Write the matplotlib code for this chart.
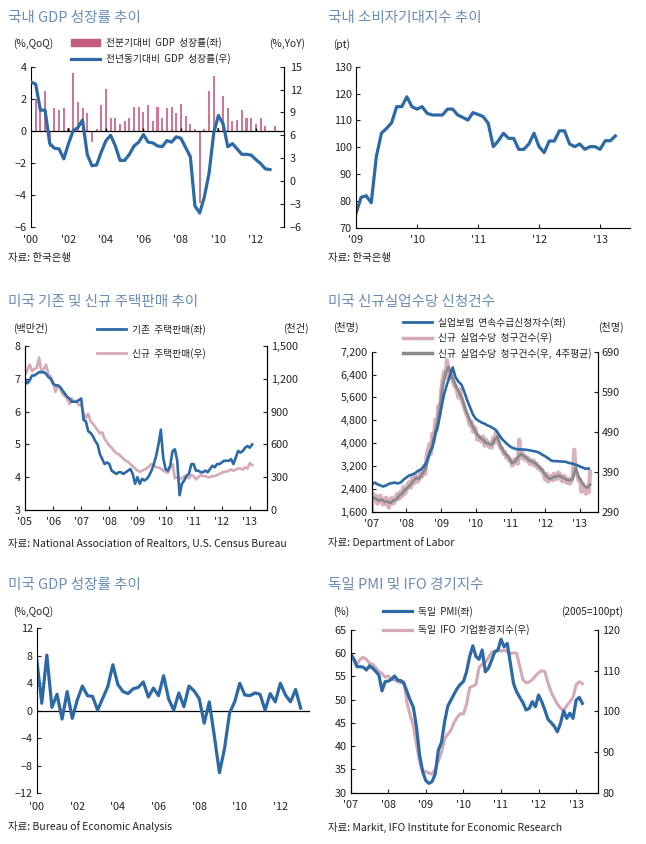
import numpy as np
import matplotlib
matplotlib.use('Agg')
import matplotlib.pyplot as plt
from matplotlib.lines import Line2D
from matplotlib.patches import Patch
from matplotlib.ticker import FuncFormatter

plt.rcParams['font.family'] = ['Noto Sans CJK KR', 'DejaVu Sans']
plt.rcParams['axes.unicode_minus'] = True

# ---- data -------------------------------------------------------------
# 국내 GDP 성장률 (quarterly, 2000Q1 - 2012Q4)
kr_qoq = [2.0, 1.3, 2.5, -1.0, 1.4, 1.3, 1.4, 0.2, 3.6, 1.8, 1.4, 1.1,
          -0.7, 0.1, 1.6, 2.6, 0.8, 0.8, 0.4, 0.6, 0.8, 1.5, 1.5, 1.2,
          1.6, 0.6, 1.5, 0.8, 1.4, 1.5, 1.1, 1.7, 0.9, 0.4, 0.1, -4.5,
          0.1, 2.5, 3.4, 0.2, 2.2, 1.4, 0.6, 0.7, 1.3, 0.8, 0.8, 0.4,
          0.8, 0.3, 0.0, 0.3]
kr_yoy = [13.0, 12.7, 9.3, 9.3, 4.9, 4.3, 4.2, 2.9, 4.9, 6.6, 7.0, 8.0,
          3.5, 2.0, 2.1, 3.8, 5.3, 6.0, 4.6, 2.7, 2.7, 3.5, 4.6, 5.1,
          6.1, 5.1, 5.0, 4.6, 4.5, 5.3, 5.1, 5.8, 5.6, 4.4, 3.2, -3.3,
          -4.2, -2.1, 1.0, 6.3, 8.6, 7.5, 4.5, 4.9, 4.2, 3.5, 3.5, 3.4,
          2.8, 2.3, 1.6, 1.5]

# 국내 소비자기대지수 (monthly, 2009.01 -)
kr_csi = [75.3, 81.3, 81.9, 79.3, 96.5, 105.2, 107.0, 109.1, 115.1, 115.1, 118.8, 115.1,
          114.2, 115.1, 112.6, 112.0, 112.0, 112.0, 114.2, 114.2, 112.0, 111.1, 110.1, 112.9,
          112.2, 111.4, 108.9, 100.2, 102.4, 105.2, 103.3, 103.3, 99.2, 99.2, 101.2, 105.2,
          100.2, 98.0, 102.3, 102.3, 106.1, 106.1, 101.2, 100.2, 101.2, 99.2, 100.2, 100.2,
          99.2, 102.4, 102.4, 104.2]

# 미국 주택판매 (monthly, 2005.01 - 2013.02)
us_existing = [7.0, 6.86, 6.95, 7.1, 7.1, 7.15, 7.2, 7.2, 7.2, 7.15, 7.05, 7.0,
               6.85, 6.8, 6.8, 6.75, 6.65, 6.55, 6.45, 6.4, 6.3, 6.3, 6.3, 6.35,
               6.4, 5.75, 5.7, 5.4, 5.35, 5.25, 5.1, 5.0, 4.7, 4.55, 4.4, 4.45,
               4.4, 4.2, 4.15, 4.1, 4.15, 4.15, 4.1, 4.15, 4.2, 4.25, 4.1, 3.8,
               4.0, 3.8, 3.95, 3.9, 3.95, 4.05, 4.2, 4.4, 4.65, 5.0, 5.45, 4.6,
               4.25, 4.2, 4.35, 4.8, 4.85, 4.5, 3.45, 3.8, 3.9, 4.05, 4.1, 4.4,
               4.4, 4.2, 4.2, 4.15, 4.15, 4.2, 4.15, 4.25, 4.35, 4.3, 4.4, 4.4,
               4.45, 4.5, 4.5, 4.5, 4.55, 4.4, 4.6, 4.8, 4.75, 4.8, 4.9, 4.95,
               4.9, 5.0]
us_new = [1235, 1280, 1330, 1270, 1290, 1300, 1395, 1260, 1290, 1330, 1240, 1220,
          1170, 1080, 1140, 1110, 1060, 1040, 1020, 970, 1020, 990, 1000, 960,
          960, 890, 840, 880, 810, 790, 760, 730, 700, 710, 650, 620,
          590, 570, 540, 520, 510, 490, 470, 450, 440, 420, 400, 380,
          360, 350, 360, 370, 380, 400, 420, 410, 390, 390, 380, 360,
          350, 340, 390, 420, 290, 300, 290, 290, 310, 300, 290, 320,
          310, 280, 300, 320, 310, 310, 300, 300, 310, 310, 320, 330,
          340, 350, 350, 360, 370, 360, 370, 380, 380, 370, 390, 380,
          430, 410]

# 미국 실업수당 (2007.01 - 2013.04)
cont_claims = [2550, 2620, 2560, 2520, 2480, 2520, 2580, 2600, 2620, 2590, 2620, 2720,
               2800, 2870, 2900, 2950, 3030, 3080, 3170, 3350, 3650, 3850, 4300, 4650,
               5200, 5700, 6050, 6350, 6650, 6300, 6150, 6050, 5800, 5500, 5250, 5000,
               4850, 4780, 4720, 4680, 4620, 4580, 4520, 4450, 4300, 4150, 4050, 3950,
               3870, 3820, 3790, 3780, 3780, 3770, 3760, 3740, 3720, 3700, 3660, 3590,
               3540, 3470, 3390, 3370, 3370, 3360, 3350, 3350, 3310, 3290, 3260, 3230,
               3180, 3140, 3100, 3110]
init_claims = [292, 335, 318, 330, 310, 325, 330, 312, 308, 322, 325, 305,
               300, 322, 325, 310, 315, 330, 335, 322, 340, 328, 352, 335,
               342, 360, 365, 350, 375, 360, 382, 365, 365, 380, 392, 378,
               405, 385, 430, 445, 460, 435, 485, 465, 520, 495, 555, 530,
               590, 620, 640, 625, 669, 650, 625, 642, 620, 605, 605, 590,
               575, 595, 575, 560, 550, 538, 530, 518, 505, 515, 490, 502,
               495, 470, 480, 468, 465, 478, 455, 470, 465, 452, 462, 450,
               475, 462, 490, 470, 460, 448, 450, 435, 440, 425, 430, 418,
               420, 405, 408, 422, 420, 410, 470, 425, 440, 422, 430, 418,
               425, 410, 420, 408, 418, 405, 410, 398, 402, 392, 395, 380,
               370, 385, 365, 378, 380, 368, 385, 372, 372, 388, 385, 370,
               365, 380, 375, 362, 372, 360, 365, 380, 445, 392, 385, 368,
               372, 340, 360, 345, 335, 350, 338, 390]
init_claims_4w = [325, 322, 318, 320, 315, 315, 312, 318, 320, 330, 335, 345,
                  350, 358, 368, 375, 372, 385, 395, 420, 445, 475, 505, 545,
                  600, 635, 652, 630, 615, 598, 585, 568, 545, 527, 510, 495,
                  482, 475, 470, 462, 460, 457, 470, 478, 455, 442, 433, 425,
                  412, 415, 425, 435, 430, 425, 418, 415, 412, 405, 398, 388,
                  378, 372, 375, 378, 380, 378, 373, 370, 368, 372, 400, 378,
                  365, 355, 350, 358]

# 미국 GDP 성장률 (%, QoQ annualized)
us_gdp = [7.5, 1.1, 8.1, 0.5, 2.4, -1.2, 2.8, -1.1, 1.6, 3.6,
          2.2, 2.1, 0.1, 1.8, 3.5, 6.7, 3.8, 2.8, 2.5, 3.2,
          3.4, 4.2, 2.0, 3.3, 2.2, 5.1, 1.7, 0.1, 2.6, 0.6,
          3.6, 2.9, 1.8, -1.8, 1.3, -3.7, -9.0, -5.5, -0.3, 1.3,
          4.0, 2.3, 2.2, 2.6, 2.4, 0.1, 2.5, 1.3, 4.0, 2.3,
          1.3, 3.1, 0.4]

# 독일 PMI / IFO (monthly, 2007.01 - 2013.03)
de_pmi = [59.8, 58.7, 57.1, 57.1, 57.0, 56.4, 57.3, 56.8, 56.1, 55.3, 51.9, 53.9,
          54.0, 54.4, 55.1, 54.2, 54.1, 53.5, 51.7, 49.9, 48.4, 44.2, 38.1, 34.5,
          32.6, 32.0, 32.4, 34.0, 39.2, 40.8, 45.3, 48.6, 49.9, 51.2, 52.4, 53.3,
          53.9, 56.0, 59.3, 61.6, 59.3, 58.7, 60.7, 56.0, 56.8, 58.5, 60.3, 60.6,
          63.0, 61.4, 62.1, 57.8, 53.5, 51.7, 50.5, 49.4, 47.8, 48.1, 49.6, 48.5,
          51.0, 49.6, 47.8, 45.8, 45.1, 44.3, 43.1, 44.9, 47.6, 46.0, 47.1, 46.0,
          49.9, 50.5, 49.2]
de_ifo = [114.3, 113.0, 111.6, 112.8, 113.3, 112.8, 111.8, 111.6, 110.7, 109.8, 109.3, 108.4,
          108.7, 107.9, 107.7, 107.3, 107.0, 107.3, 102.0, 99.0, 96.5, 92.0, 87.5, 85.2,
          85.2, 84.8, 84.6, 85.8, 87.8, 90.0, 93.2, 94.4, 95.3, 97.2, 98.5, 99.4,
          99.3, 101.8, 105.8, 106.2, 106.6, 110.8, 111.6, 112.0, 113.2, 114.5, 114.8, 115.2,
          114.8, 115.1, 114.7, 114.2, 114.4, 114.3, 111.0, 107.8, 107.0, 107.2, 107.8, 108.7,
          109.5, 110.0, 109.8, 107.0, 104.8, 103.2, 101.8, 100.8, 100.2, 101.4, 102.4, 103.4,
          106.5, 107.3, 106.8]

# ---- style ------------------------------------------------------------
W, H = 646, 844
BLUE = '#2C69A5'
PINK = '#D5A9B7'
BAR = '#CE7896'
BAR_LEG = '#C45C80'
GRAY = '#8A8A8A'
TITLE = '#6B8DB6'
TXT = '#222222'

fig = plt.figure(figsize=(W / 100, H / 100), dpi=100)


def box(l, t, r, b):
    return fig.add_axes([l / W, 1 - b / H, (r - l) / W, (b - t) / H])


def ftext(x, y, s, **kw):
    kw.setdefault('fontsize', 7.3)
    kw.setdefault('color', TXT)
    fig.text(x / W, 1 - y / H, s, va='center', **kw)


def style(ax):
    ax.tick_params(direction='in', length=3, width=0.8, labelsize=7.8,
                   colors=TXT, pad=3)
    for s in ax.spines.values():
        s.set_linewidth(0.8)
    ax.spines['top'].set_visible(False)


def years(ax, ticks, pad=5, length=3):
    ax.set_xticks(ticks)
    ax.set_xticklabels(["'%02d" % (y % 100) for y in ticks])
    ax.tick_params(axis='x', pad=pad, length=length)


def legend(ax, handles, labels, x, y, spacing=0.55):
    leg = ax.legend(handles, labels, loc='upper left',
                    bbox_to_anchor=(x / W, 1 - y / H),
                    bbox_transform=fig.transFigure, frameon=False,
                    fontsize=7, handlelength=3.0, handletextpad=0.6,
                    borderpad=0, borderaxespad=0, labelspacing=spacing)
    for t in leg.get_texts():
        t.set_color(TXT)


comma = FuncFormatter(lambda v, p: f'{v:,.0f}')

# ---- 1. 국내 GDP 성장률 추이 -------------------------------------------
ax1 = box(31, 66.7, 284, 226.7)
style(ax1)
ax1r = ax1.twinx()
style(ax1r)
q = 2000 + np.arange(len(kr_yoy)) * 0.25
ax1.bar(q + 0.25, kr_qoq, width=0.11, color=BAR, zorder=2)
ax1.axhline(0, color='k', lw=0.9, zorder=3)
ax1.vlines(np.arange(2002, 2013, 2), 0, 0.18, color='k', lw=1, zorder=3)
ax1r.plot(q, kr_yoy, color=BLUE, lw=2.3, solid_joinstyle='round')
ax1.set_xlim(2000, 2013.5)
ax1.set_ylim(-6, 4)
ax1.set_yticks(range(-6, 5, 2))
ax1r.set_ylim(-6, 15)
ax1r.set_yticks(range(-6, 16, 3))
ax1r.tick_params(axis='y', pad=4)
years(ax1, list(range(2000, 2013, 2)), pad=6, length=0)
for a in (ax1, ax1r):
    a.spines['bottom'].set_visible(False)
ax1r.spines['left'].set_visible(False)
ftext(8, 18, '국내 GDP 성장률 추이', fontsize=10.5, color=TITLE)
ftext(13, 44, '(%,QoQ)')
ftext(269, 44, '(%,YoY)')
ftext(8, 258, '자료: 한국은행', fontsize=7.5)
legend(ax1r, [Patch(color=BAR_LEG), Line2D([], [], color=BLUE, lw=2.3)],
       ['전분기대비  GDP  성장률(좌)', '전년동기대비  GDP  성장률(우)'], 71, 37)

# ---- 2. 국내 소비자기대지수 추이 ----------------------------------------
ax2 = box(356, 66.7, 630, 227.7)
style(ax2)
ax2.spines['right'].set_visible(False)
m = 2009 + np.arange(len(kr_csi)) / 12
ax2.plot(m, kr_csi, color=BLUE, lw=2.3, solid_joinstyle='round')
ax2.set_xlim(2009, 2013.49)
ax2.set_ylim(70, 130)
ax2.set_yticks(range(70, 131, 10))
years(ax2, list(range(2009, 2014)))
ftext(328, 18, '국내 소비자기대지수 추이', fontsize=10.5, color=TITLE)
ftext(333, 45, '(pt)')
ftext(328, 258, '자료: 한국은행', fontsize=7.5)

# ---- 3. 미국 기존 및 신규 주택판매 추이 ---------------------------------
ax3 = box(25, 346, 266.7, 510)
style(ax3)
ax3r = ax3.twinx()
style(ax3r)
m = 2005 + np.arange(len(us_existing)) / 12
ax3r.plot(m, us_new, color=PINK, lw=1.9)
ax3.plot(m, us_existing, color=BLUE, lw=1.9)
ax3.set_zorder(ax3r.get_zorder() + 1)
ax3.patch.set_visible(False)
ax3.set_xlim(2005, 2013.6)
ax3.set_ylim(3, 8)
ax3r.set_ylim(0, 1500)
ax3r.set_yticks(range(0, 1501, 300))
ax3r.yaxis.set_major_formatter(comma)
years(ax3, list(range(2005, 2014)))
ftext(8, 302, '미국 기존 및 신규 주택판매 추이', fontsize=10.5, color=TITLE)
ftext(13, 328, '(백만건)')
ftext(283, 328, '(천건)')
ftext(8, 543, '자료: National Association of Realtors, U.S. Census Bureau', fontsize=7.5)
legend(ax3, [Line2D([], [], color=BLUE, lw=2), Line2D([], [], color=PINK, lw=2)],
       ['기존  주택판매(좌)', '신규  주택판매(우)'], 97, 324, spacing=1.3)

# ---- 4. 미국 신규실업수당 신청건수 --------------------------------------
ax4 = box(371.7, 351.7, 597.7, 511.7)
style(ax4)
ax4r = ax4.twinx()
style(ax4r)
ax4r.plot(2007 + np.arange(len(init_claims)) / 24, init_claims,
          color=PINK, lw=3.0, alpha=0.9)
ax4r.plot(2007 + np.arange(len(init_claims_4w)) / 12 + 0.04, init_claims_4w,
          color=GRAY, lw=2.0)
ax4.plot(2007 + np.arange(len(cont_claims)) / 12, cont_claims, color=BLUE, lw=1.9)
ax4.set_zorder(ax4r.get_zorder() + 1)
ax4.patch.set_visible(False)
ax4.set_xlim(2007, 2013.51)
ax4.set_ylim(1600, 7200)
ax4.set_yticks(range(1600, 7201, 800))
ax4.yaxis.set_major_formatter(comma)
ax4r.set_ylim(290, 690)
ax4r.set_yticks(range(290, 691, 100))
years(ax4, list(range(2007, 2014)))
ftext(328, 302, '미국 신규실업수당 신청건수', fontsize=10.5, color=TITLE)
ftext(333, 327, '(천명)')
ftext(598, 327, '(천명)')
ftext(328, 543, '자료: Department of Labor', fontsize=7.5)
legend(ax4, [Line2D([], [], color=BLUE, lw=2), Line2D([], [], color=PINK, lw=2.5),
             Line2D([], [], color=GRAY, lw=2.5)],
       ['실업보험  연속수급신청자수(좌)', '신규  실업수당  청구건수(우)',
        '신규  실업수당  청구건수(우,  4주평균)'], 403, 317, spacing=0.45)

# ---- 5. 미국 GDP 성장률 추이 -------------------------------------------
ax5 = box(36.7, 628.3, 310, 793.3)
style(ax5)
ax5.spines['right'].set_visible(False)
ax5.spines['bottom'].set_visible(False)
q = 2000 + np.arange(len(us_gdp)) * 0.25
ax5.axhline(0, color='k', lw=0.9)
ax5.plot(q, us_gdp, color=BLUE, lw=2.3, solid_joinstyle='round')
ax5.set_xlim(2000, 2013.46)
ax5.set_ylim(-12, 12)
ax5.set_yticks(range(-12, 13, 4))
years(ax5, list(range(2000, 2013, 2)), pad=6, length=0)
ftext(8, 585, '미국 GDP 성장률 추이', fontsize=10.5, color=TITLE)
ftext(13, 612, '(%,QoQ)')
ftext(8, 827, '자료: Bureau of Economic Analysis', fontsize=7.5)

# ---- 6. 독일 PMI 및 IFO 경기지수 ----------------------------------------
ax6 = box(350.7, 630, 598.3, 792.7)
style(ax6)
ax6r = ax6.twinx()
style(ax6r)
m = 2007 + np.arange(len(de_pmi)) / 12
ax6r.plot(m, de_ifo, color=PINK, lw=2.2)
ax6.plot(m, de_pmi, color=BLUE, lw=2.3)
ax6.set_zorder(ax6r.get_zorder() + 1)
ax6.patch.set_visible(False)
ax6.set_xlim(2007, 2013.59)
ax6.set_ylim(30, 65)
ax6.set_yticks(range(30, 66, 5))
ax6r.set_ylim(80, 120)
ax6r.set_yticks(range(80, 121, 10))
years(ax6, list(range(2007, 2014)))
ftext(328, 585, '독일 PMI 및 IFO 경기지수', fontsize=10.5, color=TITLE)
ftext(333, 612, '(%)')
ftext(561, 612, '(2005=100pt)')
ftext(328, 827, '자료: Markit, IFO Institute for Economic Research', fontsize=7.5)
legend(ax6, [Line2D([], [], color=BLUE, lw=2.3), Line2D([], [], color=PINK, lw=2.3)],
       ['독일  PMI(좌)', '독일  IFO  기업환경지수(우)'], 383, 606, spacing=0.75)

fig.savefig('out.png', dpi=100)
plt.close(fig)
